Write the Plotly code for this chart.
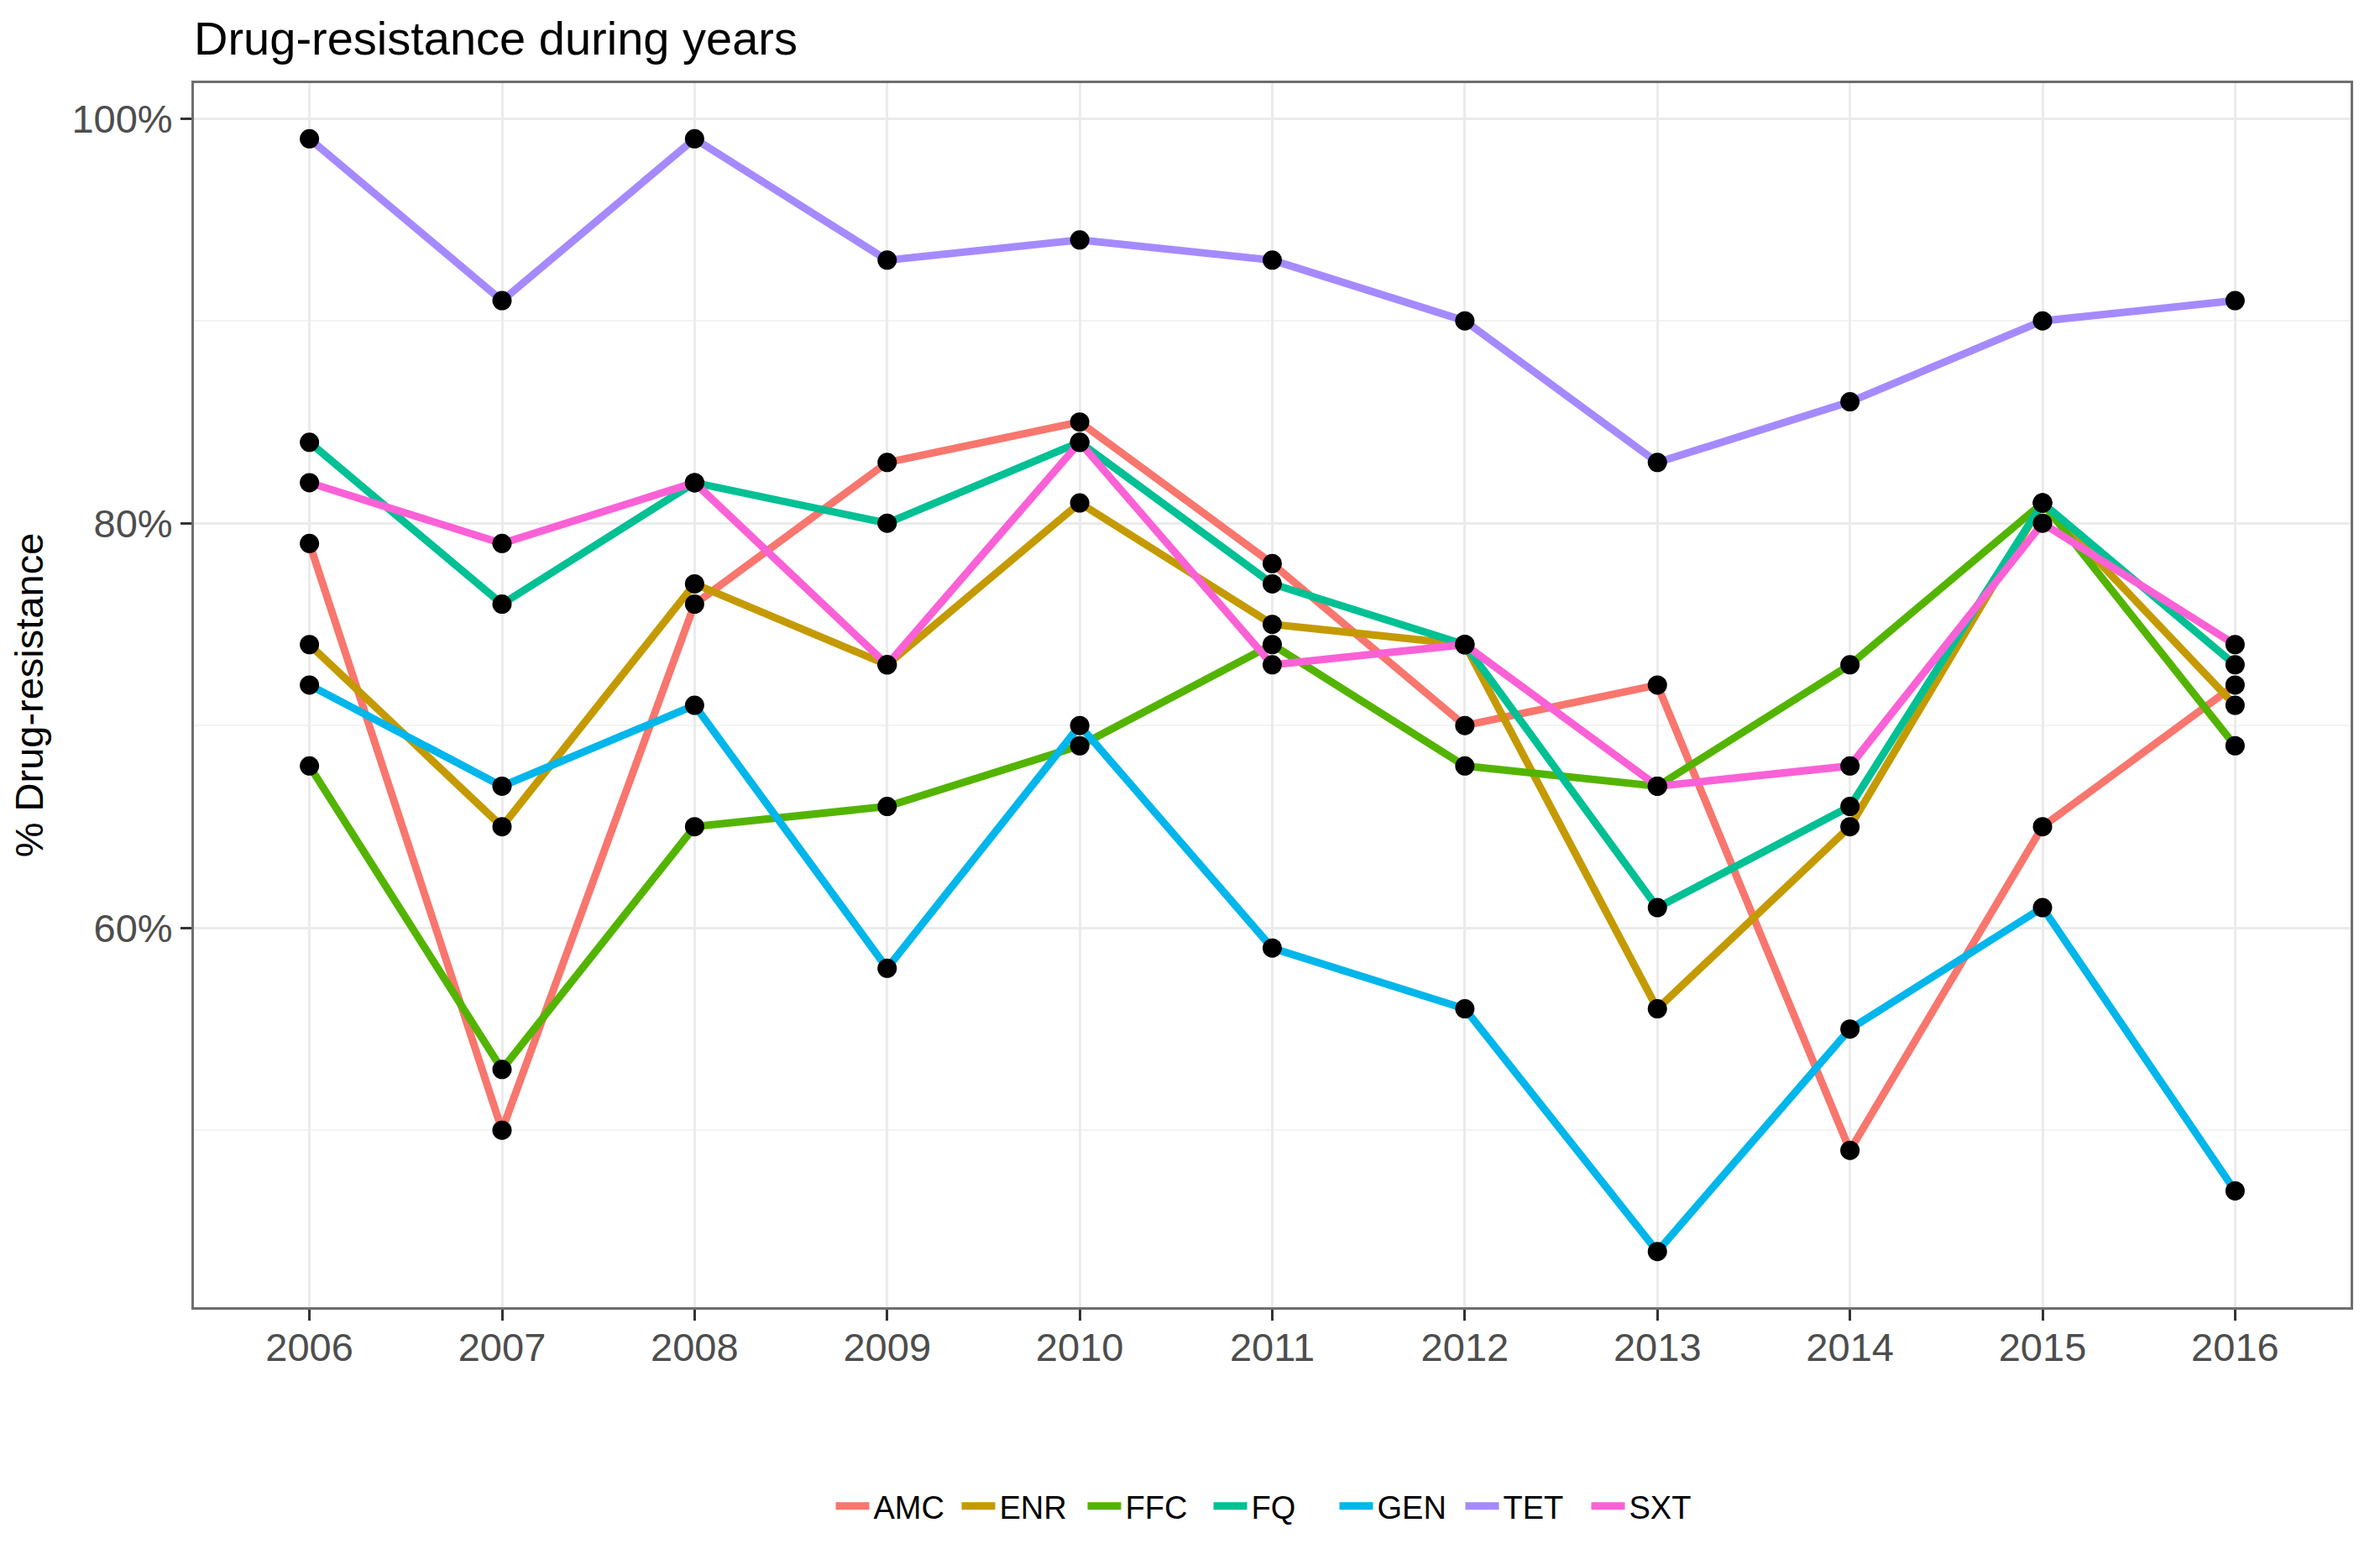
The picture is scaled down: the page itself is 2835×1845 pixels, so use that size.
import plotly.graph_objects as go

years = [2006, 2007, 2008, 2009, 2010, 2011, 2012, 2013, 2014, 2015, 2016]

AMC = [79, 50, 76, 83, 85, 78, 70, 72, 49, 65, 72]
ENR = [74, 65, 77, 73, 81, 75, 74, 56, 65, 81, 71]
FFC = [68, 53, 65, 66, 69, 74, 68, 67, 73, 81, 69]
FQ = [84, 76, 82, 80, 84, 77, 74, 61, 66, 81, 73]
GEN = [72, 67, 71, 58, 70, 59, 56, 44, 55, 61, 47]
TET = [99, 91, 99, 93, 94, 93, 90, 83, 86, 90, 91]
SXT = [82, 79, 82, 73, 84, 73, 74, 67, 68, 80, 74]

series_names = ["AMC", "ENR", "FFC", "FQ", "GEN", "TET", "SXT"]
series_values = [AMC, ENR, FFC, FQ, GEN, TET, SXT]
colors = ["#F8766D", "#C49A00", "#53B400", "#00C094", "#00B6EB", "#A58AFF", "#FB61D7"]

y_tick_vals = [60, 80, 100]
y_tick_text = ["60%", "80%", "100%"]

FONT = "Liberation Sans, Arial, Helvetica, sans-serif"

W, H = 2827, 1837

fig = go.Figure()

for name, vals, col in zip(series_names, series_values, colors):
    fig.add_trace(go.Scatter(
        x=years, y=vals, mode="lines", name=name,
        line=dict(color=col, width=9),
        showlegend=True,
    ))

for name, vals in zip(series_names, series_values):
    fig.add_trace(go.Scatter(
        x=years, y=vals, mode="markers", name=name,
        marker=dict(color="black", size=23),
        showlegend=False, hoverinfo="skip",
    ))

fig.update_layout(
    width=W, height=H,
    paper_bgcolor="white", plot_bgcolor="white",
    margin=dict(l=223, r=35, t=91, b=288, autoexpand=False),
    font=dict(family=FONT, color="black"),
    title=dict(
        text="Drug-resistance during years",
        font=dict(size=56, color="black", family=FONT),
        xref="paper", x=0, xanchor="left",
        yref="container", y=1 - 37 / H, yanchor="middle",
    ),
    legend=dict(
        orientation="h",
        x=0.5, xanchor="center",
        y=-0.1626, yanchor="middle",
        font=dict(size=38, color="black", family=FONT),
        itemwidth=40,
        entrywidth=95, entrywidthmode="pixels",
        tracegroupgap=0,
    ),
    showlegend=True,
)

fig.update_xaxes(
    range=[2005.4, 2016.6],
    tickmode="array", tickvals=years, ticktext=[str(y) for y in years],
    showgrid=True, gridcolor="#EBEBEB", gridwidth=3,
    zeroline=False,
    showline=True, linecolor="#6E6E6E", linewidth=3, mirror=True,
    ticks="outside", ticklen=13, tickwidth=3, tickcolor="#333333",
    ticklabelstandoff=-8,
    tickfont=dict(size=47, color="#4D4D4D", family=FONT),
)

fig.update_yaxes(
    range=[41.25, 101.75],
    tickmode="array", tickvals=y_tick_vals, ticktext=y_tick_text,
    showgrid=True, gridcolor="#EBEBEB", gridwidth=3,
    minor=dict(tickmode="array", tickvals=[50, 70, 90], showgrid=True,
               gridcolor="#F3F3F3", gridwidth=2, ticks=""),
    zeroline=False,
    showline=True, linecolor="#6E6E6E", linewidth=3, mirror=True,
    ticks="outside", ticklen=13, tickwidth=3, tickcolor="#333333",
    tickfont=dict(size=47, color="#4D4D4D", family=FONT),
    title=dict(text="% Drug-resistance", font=dict(size=47, color="black", family=FONT),
               standoff=22),
)

fig.write_html("out.html")
